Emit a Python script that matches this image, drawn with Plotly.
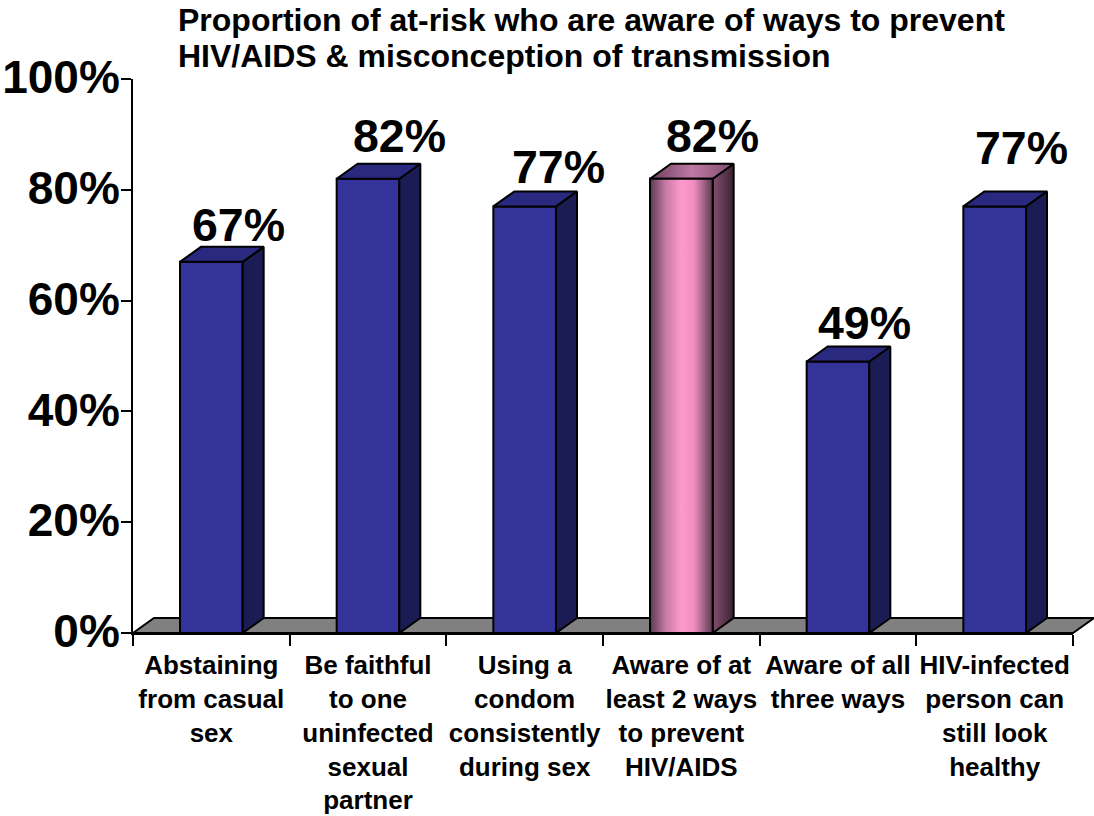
import plotly.graph_objects as go

title_lines = ["Proportion of at-risk who are aware of ways to prevent",
               "HIV/AIDS &amp; misconception of transmission"]
categories = ["Abstaining<br>from casual<br>sex", "Be faithful<br>to one<br>uninfected<br>sexual<br>partner",
              "Using a<br>condom<br>consistently<br>during sex", "Aware of at<br>least 2 ways<br>to prevent<br>HIV/AIDS",
              "Aware of all<br>three ways", "HIV-infected<br>person can<br>still look<br>healthy"]
values = [67, 82, 77, 82, 49, 77]
y_ticks = [0, 20, 40, 60, 80, 100]
y_labels = ["0%", "20%", "40%", "60%", "80%", "100%"]
highlight = 3
label_dx = [27, 31, 34, 31, 26, 27]
label_dy = [37, 43, 39, 43, 39, 58]
title_centres = [20, 56]

W, H = 1094, 816
L, R, T, B = 133, 21, 79, 183
plot_w = W - L - R
plot_h = H - T - B
bar_w = 0.4
dx = 21 / (plot_w / 6)
dy = 15 / (plot_h / 100)

BLUE, SIDE, TOP = "#333399", "#1c1c55", "#29297f"
LINE = dict(color="black", width=2)
xs = list(range(len(values)))

fig = go.Figure()
fig.add_trace(go.Bar(x=xs, y=values, width=bar_w,
                     marker=dict(color=BLUE, line=LINE), showlegend=False, hoverinfo="skip"))

def poly(px, py, **kw):
    fig.add_trace(go.Scatter(x=px, y=py, mode="lines", fill="toself", line=LINE,
                             cliponaxis=False, showlegend=False, hoverinfo="skip", **kw))

for i, v in zip(xs, values):
    a, b = i - bar_w / 2, i + bar_w / 2
    hl = i == highlight
    side_px = [b, b + dx, b + dx, b, b]
    side_py = [0, dy, v + dy, v, 0]
    top_px = [a, a + dx, b + dx, b, a]
    top_py = [v, v + dy, v + dy, v, v]
    if hl:
        poly(side_px, side_py, fillgradient=dict(type="horizontal",
             colorscale=[[0, "#84506f"], [0.5, "#5f3a52"], [1, "#3a2033"]]))
        poly(top_px, top_py, fillgradient=dict(type="horizontal",
             colorscale=[[0, "#6b3f5c"], [0.5, "#bf79a4"], [1, "#7d4c6c"]]))
        poly([a, b, b, a, a], [0, 0, v, v, 0], fillgradient=dict(type="horizontal",
             colorscale=[[0, "#5a3a50"], [0.25, "#c77aa5"], [0.5, "#ff99cc"], [0.7, "#f08fc0"], [1, "#5a3a50"]]))
    else:
        poly(side_px, side_py, fillcolor=SIDE)
        poly(top_px, top_py, fillcolor=TOP)

BOLD = dict(family="Liberation Sans", color="black", weight="bold")
notes = [dict(x=i, y=v, text=f"{v}%", showarrow=False, xshift=ox, yshift=oy, yanchor="middle",
              font=dict(size=46.5, **BOLD))
         for i, v, ox, oy in zip(xs, values, label_dx, label_dy)]
notes += [dict(xref="paper", yref="paper", x=(178 - L) / plot_w, y=1 + (T - c) / plot_h, text=t,
               showarrow=False, xanchor="left", yanchor="middle", xshift=-2, font=dict(size=32, **BOLD))
          for t, c in zip(title_lines, title_centres)]
fx, fy = 21 / plot_w, 15 / plot_h
fig.update_layout(
    width=W, height=H, autosize=False, margin=dict(l=L, r=R, t=T, b=B, pad=0),
    paper_bgcolor="white", plot_bgcolor="white", bargap=0.6,
    annotations=notes,
    shapes=[dict(type="path", xref="paper", yref="paper", layer="below",
                 path=f"M 0 0 L {fx} {fy} L {1 + fx} {fy} L 1 0 Z",
                 fillcolor="#808080", line=LINE)],
    xaxis=dict(range=[-0.5, 5.5], tickvals=xs, ticktext=categories, ticks="", showgrid=False, zeroline=False,
               automargin=False, showline=True, linecolor="black", linewidth=2, ticklabelstandoff=8,
               tickfont=dict(size=26, **BOLD),
               minor=dict(tickvals=[-0.5, 0.5, 1.5, 2.5, 3.5, 4.5, 5.5], ticks="outside", ticklen=11, tickwidth=2,
                          tickcolor="black", showgrid=False)),
    yaxis=dict(range=[0, 100], tickvals=y_ticks, ticktext=y_labels, ticks="outside", ticklen=10,
               tickwidth=2, tickcolor="black", showgrid=False, zeroline=False, showline=True, linecolor="black",
               automargin=False, linewidth=2, ticklabelstandoff=-8, ticklabelshift=-2,
               tickfont=dict(size=46, **BOLD)),
)

fig.write_html("out.html", config=dict(displayModeBar=False),
               post_script="document.body.style.margin='0';")
